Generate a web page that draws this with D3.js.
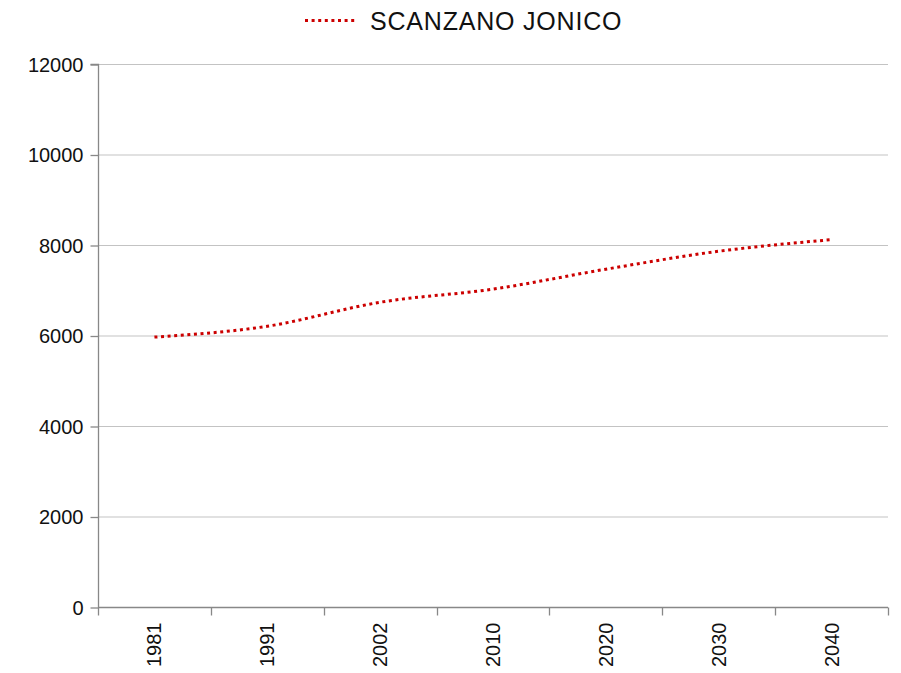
<!DOCTYPE html>
<html><head><meta charset="utf-8">
<script src="https://cdn.jsdelivr.net/npm/d3@7"></script>
<style>body{margin:0;background:#fff}svg{display:block}</style>
</head><body>
<svg id="c" width="901" height="673"></svg>
<script>
const categories = ["1981","1991","2002","2010","2020","2030","2040"];
const values = [5965, 6205, 6735, 7025, 7465, 7862, 8118];
const yTicks = [0,2000,4000,6000,8000,10000,12000];
const seriesName = "SCANZANO JONICO";

const svg = d3.select("#c");
const m = {l:98, r:888, t:64, b:607};
const x = d3.scaleBand().domain(categories).range([m.l, m.r]);
const y = d3.scaleLinear().domain([0,12000]).range([m.b, m.t]);
const font = "Liberation Sans, Arial, sans-serif";

// gridlines
svg.append("g").selectAll("line").data(yTicks.filter(d=>d>0)).join("line")
  .attr("x1", m.l).attr("x2", m.r)
  .attr("y1", d=>y(d)+0.5).attr("y2", d=>y(d)+0.5)
  .attr("stroke", "#c3c3c3").attr("stroke-width", 1.2);

// y axis
const ya = svg.append("g").attr("transform", `translate(${m.l+0.5},0)`)
  .call(d3.axisLeft(y).tickValues(yTicks).tickSize(8).tickPadding(7).tickFormat(d3.format("d")));
ya.select(".domain").attr("stroke", "#888").attr("stroke-width", 1.3).attr("d", `M-8,${m.t+0.5}H0V${m.b+0.5}`);
ya.selectAll(".tick line").attr("stroke", "#888").attr("stroke-width", 1.3).attr("transform","translate(0,0.5)");
ya.selectAll("text").attr("font-family", font).attr("font-size", 20).attr("fill", "#111").attr("dy","0.36em");

// x axis
const xa = svg.append("g").attr("transform", `translate(0,${m.b+0.5})`);
xa.append("line").attr("x1", m.l).attr("x2", m.r).attr("stroke", "#888").attr("stroke-width", 1.3);
const xt = categories.map(c=>x(c)).concat([m.r]);
xa.selectAll("line.t").data(xt).join("line").attr("class","t")
  .attr("x1", d=>Math.round(d)+0.5).attr("x2", d=>Math.round(d)+0.5).attr("y1",0).attr("y2",8)
  .attr("stroke", "#888").attr("stroke-width", 1.3);
xa.selectAll("text").data(categories).join("text")
  .attr("transform", d=>`translate(${x(d)+x.bandwidth()/2+7},15) rotate(-90)`)
  .attr("text-anchor","end")
  .attr("font-family", font).attr("font-size", 20).attr("fill", "#111")
  .text(d=>d);

// line
const line = d3.line().x((d,i)=>x(categories[i])+x.bandwidth()/2).y(d=>y(d)).curve(d3.curveMonotoneX);
svg.append("path").datum(values).attr("d", line)
  .attr("fill","none").attr("stroke","#cc0000").attr("stroke-width",3)
  .attr("stroke-dasharray","3,3.6");

// legend
svg.append("line").attr("x1",305).attr("x2",356).attr("y1",20.5).attr("y2",20.5)
  .attr("stroke","#cc0000").attr("stroke-width",3).attr("stroke-dasharray","3,3.6");
svg.append("text").attr("x",370).attr("y",29.5).attr("font-family",font).attr("font-size",25)
  .attr("letter-spacing","0.8").attr("fill","#111").text(seriesName);
</script>
</body></html>
